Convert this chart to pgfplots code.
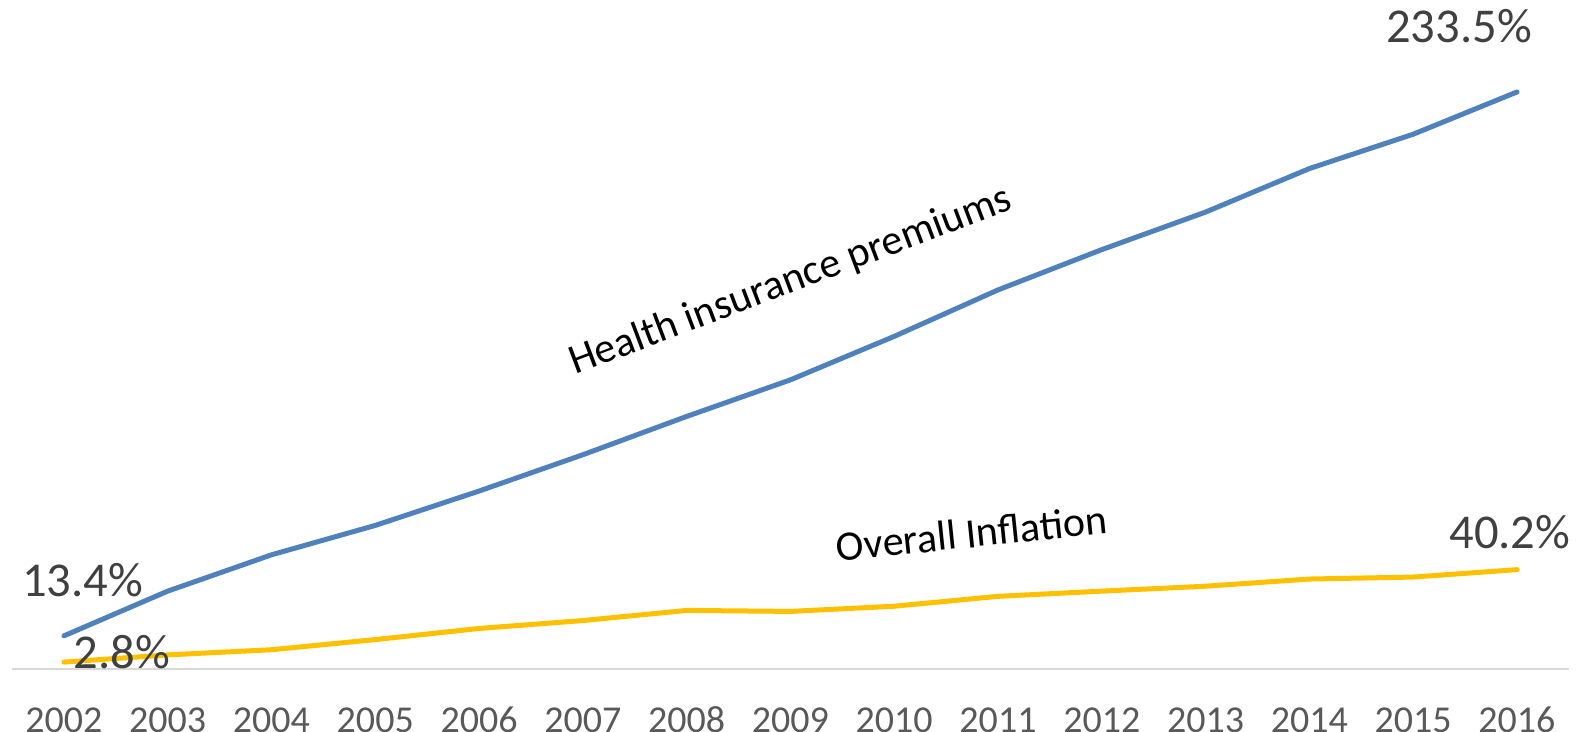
\documentclass[border=0pt]{standalone}
\usepackage{pgfplots}
\pgfplotsset{compat=1.18}
\usepackage{fontspec}
\setmainfont{Carlito}
\definecolor{hblue}{HTML}{4F81BD}
\definecolor{iyel}{HTML}{FFC000}
\definecolor{lbl}{HTML}{404040}
\definecolor{tck}{HTML}{595959}
\begin{document}
\begin{tikzpicture}
\path[use as bounding box] (-6pt,-31.5pt) rectangle (787.5pt,334.5pt);
\begin{axis}[
  at={(0,0)}, anchor=south west,
  scale only axis, width=778.5pt, height=334.5pt,
  xmin=2001.5, xmax=2016.5, ymin=0, ymax=270.7,
  axis x line=bottom, axis y line=none,
  x axis line style={draw=black!15, line width=1pt, -},
  xtick={2002,...,2016},
  xticklabels={2002,2003,2004,2005,2006,2007,2008,2009,2010,2011,2012,2013,2014,2015,2016},
  xtick style={draw=none},
  xticklabel style={anchor=base, yshift=-29.5pt, font=\fontsize{19pt}{22pt}\selectfont, text=tck},
  ytick=\empty,
  clip=false,
]
\addplot[hblue, line width=2.5pt, line cap=round, line join=round] coordinates {
(2002,13.4) (2003,31.5) (2004,46.2) (2005,58.1) (2006,72.0) (2007,86.7) (2008,102.2)
(2009,117.0) (2010,134.6) (2011,153.4) (2012,169.7) (2013,184.9) (2014,202.5) (2015,216.4) (2016,233.5)};
\addplot[iyel, line width=2.5pt, line cap=round, line join=round] coordinates {
(2002,2.8) (2003,5.7) (2004,7.8) (2005,11.9) (2006,16.4) (2007,19.6) (2008,23.7)
(2009,23.3) (2010,25.4) (2011,29.4) (2012,31.5) (2013,33.5) (2014,36.4) (2015,37.2) (2016,40.2)};
\node[anchor=base, inner sep=0pt, text=lbl, font=\fontsize{24.3pt}{27pt}\selectfont] at (axis cs:2002.18,29.5) {13.4\%};
\node[anchor=base, inner sep=0pt, text=lbl, font=\fontsize{24.3pt}{27pt}\selectfont] at (axis cs:2002.56,0) {2.8\%};
\node[anchor=base, inner sep=0pt, text=lbl, font=\fontsize{24.3pt}{27pt}\selectfont] at (axis cs:2015.44,253.3) {233.5\%};
\node[anchor=base, inner sep=0pt, text=lbl, font=\fontsize{24.3pt}{27pt}\selectfont] at (axis cs:2015.93,48.6) {40.2\%};
\node[anchor=base, inner sep=0pt, rotate=20.7, font=\fontsize{21pt}{24pt}\selectfont] at (axis cs:2009.04,152.6) {Health insurance premiums};
\node[anchor=base, inner sep=0pt, rotate=5.9, font=\fontsize{21pt}{24pt}\selectfont] at (axis cs:2010.76,49.2) {Overall Inflation};
\end{axis}
\end{tikzpicture}
\end{document}
